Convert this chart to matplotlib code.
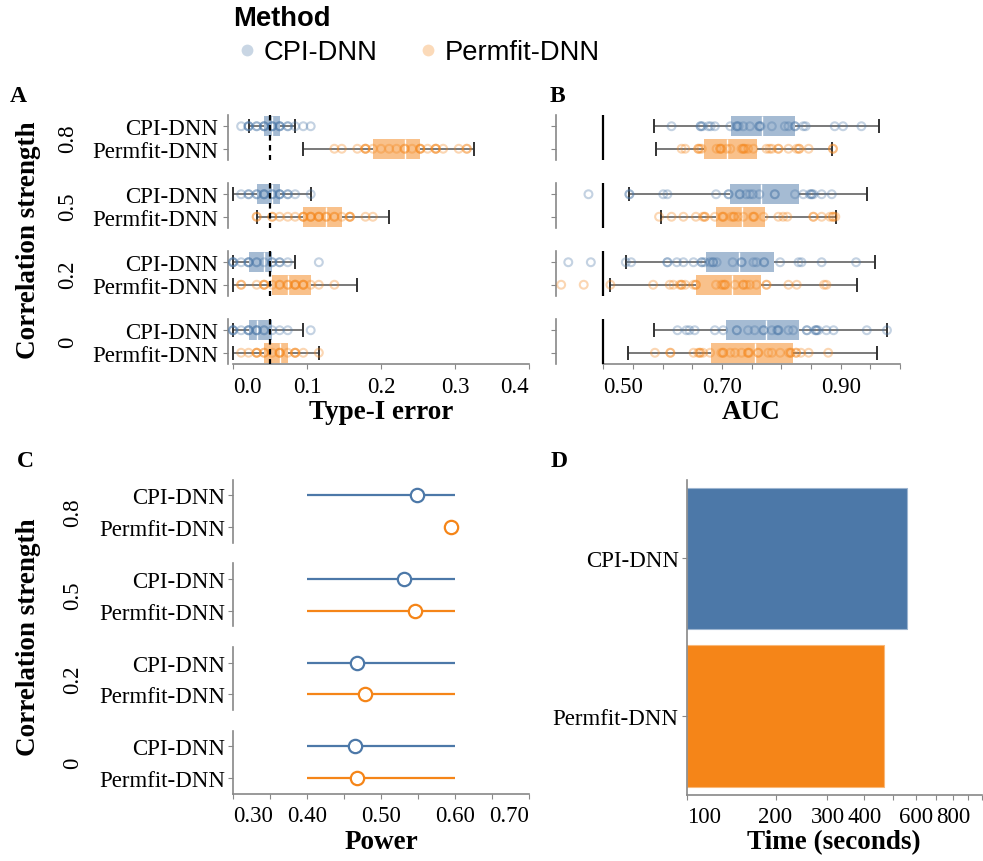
import numpy as np
import matplotlib
matplotlib.use('Agg')
import matplotlib.pyplot as plt
from matplotlib.lines import Line2D

plt.rcParams['font.family'] = 'Liberation Serif'

W, H = 983, 862
BLUE = '#4c78a8'
ORANGE = '#f58518'
GRAY = '#888888'
TICK_FS = 16.5
TITLE_FS = 19.5

rho_levels = ['0.8', '0.5', '0.2', '0']
methods = ['CPI-DNN', 'Permfit-DNN']
colors = {'CPI-DNN': BLUE, 'Permfit-DNN': ORANGE}

# Type-I error boxplot summaries (per correlation level, top to bottom)
t1_lo = {'CPI-DNN': [0.021, 0.0, 0.0, 0.0], 'Permfit-DNN': [0.095, 0.032, 0.0, 0.0]}
t1_q1 = {'CPI-DNN': [0.042, 0.032, 0.021, 0.021], 'Permfit-DNN': [0.189, 0.095, 0.053, 0.042]}
t1_med = {'CPI-DNN': [0.053, 0.053, 0.042, 0.032], 'Permfit-DNN': [0.232, 0.126, 0.074, 0.063]}
t1_q3 = {'CPI-DNN': [0.063, 0.063, 0.053, 0.053], 'Permfit-DNN': [0.253, 0.147, 0.105, 0.074]}
t1_hi = {'CPI-DNN': [0.084, 0.105, 0.084, 0.095], 'Permfit-DNN': [0.326, 0.211, 0.168, 0.116]}

t1_points = {
    'CPI-DNN': [
        [0.011, 0.021, 0.021, 0.021, 0.032, 0.032, 0.042, 0.042, 0.042, 0.053, 0.053, 0.053,
         0.063, 0.063, 0.063, 0.074, 0.074, 0.084, 0.095, 0.105],
        [0.011, 0.021, 0.021, 0.032, 0.032, 0.042, 0.042, 0.042, 0.053, 0.053, 0.063, 0.063,
         0.063, 0.074, 0.074, 0.084, 0.105],
        [0.0, 0.0, 0.0, 0.011, 0.021, 0.021, 0.021, 0.032, 0.032, 0.042, 0.053, 0.053,
         0.063, 0.063, 0.074, 0.116],
        [0.0, 0.0, 0.0, 0.011, 0.021, 0.021, 0.021, 0.032, 0.032, 0.032, 0.042, 0.042,
         0.053, 0.063, 0.074, 0.105],
    ],
    'Permfit-DNN': [
        [0.137, 0.147, 0.168, 0.179, 0.179, 0.179, 0.189, 0.200, 0.211, 0.221, 0.232, 0.232,
         0.242, 0.253, 0.253, 0.253, 0.263, 0.274, 0.274, 0.274, 0.284, 0.305, 0.316, 0.316],
        [0.032, 0.032, 0.053, 0.053, 0.063, 0.074, 0.084, 0.095, 0.095, 0.095, 0.105, 0.105,
         0.105, 0.116, 0.116, 0.116, 0.126, 0.126, 0.137, 0.137, 0.147, 0.158, 0.158, 0.158,
         0.179, 0.189],
        [0.011, 0.011, 0.032, 0.042, 0.042, 0.042, 0.053, 0.063, 0.063, 0.074, 0.074, 0.084,
         0.084, 0.084, 0.095, 0.095, 0.095, 0.105, 0.116, 0.137],
        [0.011, 0.021, 0.032, 0.032, 0.032, 0.042, 0.042, 0.053, 0.063, 0.063, 0.063, 0.074,
         0.084, 0.084, 0.084, 0.095, 0.116],
    ],
}

# AUC boxplot summaries
auc_lo = {'CPI-DNN': [0.586, 0.544, 0.538, 0.586], 'Permfit-DNN': [0.588, 0.597, 0.512, 0.541]}
auc_q1 = {'CPI-DNN': [0.715, 0.714, 0.673, 0.707], 'Permfit-DNN': [0.670, 0.690, 0.656, 0.682]}
auc_med = {'CPI-DNN': [0.767, 0.766, 0.728, 0.775], 'Permfit-DNN': [0.709, 0.733, 0.717, 0.756]}
auc_q3 = {'CPI-DNN': [0.823, 0.829, 0.788, 0.830], 'Permfit-DNN': [0.759, 0.773, 0.765, 0.819]}
auc_hi = {'CPI-DNN': [0.964, 0.944, 0.958, 0.978], 'Permfit-DNN': [0.886, 0.892, 0.927, 0.961]}

auc_points = {
    'CPI-DNN': [
        [0.615, 0.664, 0.664, 0.667, 0.677, 0.681, 0.688, 0.714, 0.725, 0.725, 0.728, 0.736,
         0.747, 0.763, 0.763, 0.765, 0.784, 0.806, 0.812, 0.823, 0.823, 0.837, 0.841, 0.890,
         0.904, 0.935],
        [0.475, 0.544, 0.544, 0.601, 0.608, 0.690, 0.711, 0.711, 0.730, 0.730, 0.741, 0.747,
         0.752, 0.763, 0.789, 0.789, 0.823, 0.837, 0.848, 0.851, 0.851, 0.854, 0.868, 0.885],
        [0.441, 0.479, 0.538, 0.547, 0.608, 0.608, 0.624, 0.635, 0.652, 0.666, 0.666, 0.671,
         0.680, 0.685, 0.685, 0.691, 0.718, 0.733, 0.733, 0.753, 0.758, 0.771, 0.771, 0.798,
         0.829, 0.834, 0.868, 0.926],
        [0.625, 0.640, 0.645, 0.654, 0.688, 0.702, 0.725, 0.725, 0.744, 0.755, 0.770, 0.770,
         0.784, 0.793, 0.795, 0.795, 0.812, 0.820, 0.843, 0.843, 0.857, 0.859, 0.859, 0.862,
         0.876, 0.888, 0.944, 0.978],
    ],
    'Permfit-DNN': [
        [0.632, 0.638, 0.660, 0.660, 0.663, 0.666, 0.691, 0.697, 0.697, 0.699, 0.708, 0.714,
         0.733, 0.736, 0.736, 0.739, 0.744, 0.753, 0.775, 0.780, 0.784, 0.795, 0.795, 0.812,
         0.826, 0.830, 0.830, 0.846, 0.887, 0.887],
        [0.594, 0.615, 0.635, 0.656, 0.668, 0.671, 0.671, 0.688, 0.701, 0.701, 0.703, 0.716,
         0.720, 0.720, 0.727, 0.736, 0.752, 0.754, 0.754, 0.770, 0.795, 0.803, 0.810, 0.854,
         0.854, 0.868, 0.882, 0.887, 0.887, 0.891],
        [0.429, 0.467, 0.512, 0.584, 0.612, 0.618, 0.629, 0.632, 0.632, 0.638, 0.652, 0.656,
         0.656, 0.690, 0.699, 0.702, 0.705, 0.705, 0.722, 0.736, 0.736, 0.741, 0.747, 0.758,
         0.775, 0.775, 0.812, 0.826, 0.872, 0.876],
        [0.587, 0.613, 0.613, 0.652, 0.660, 0.663, 0.663, 0.668, 0.680, 0.699, 0.702, 0.702,
         0.714, 0.722, 0.733, 0.744, 0.744, 0.746, 0.761, 0.761, 0.778, 0.784, 0.798, 0.813,
         0.816, 0.816, 0.825, 0.825, 0.833, 0.846, 0.879],
    ],
}

# Power with 95% interval
power_est = {'CPI-DNN': [0.549, 0.531, 0.467, 0.465], 'Permfit-DNN': [0.594, 0.546, 0.479, 0.467]}
power_lo = {'CPI-DNN': [0.40, 0.40, 0.40, 0.40], 'Permfit-DNN': [np.nan, 0.40, 0.40, 0.40]}
power_hi = {'CPI-DNN': [0.60, 0.60, 0.60, 0.60], 'Permfit-DNN': [np.nan, 0.60, 0.60, 0.60]}

# Computation time
time_sec = [557, 465]
time_ticks = [100, 200, 300, 400, 500, 600, 700, 800, 900, 1000]
time_labels = ['100', '200', '300', '400', '', '600', '', '800', '', '']


def px(v):
    return v * 72 / 100


def px_axes(fig, left, top, right, bottom):
    return fig.add_axes([left / W, 1 - bottom / H, (right - left) / W, (bottom - top) / H])


def style_axis(ax, last, ytick_pad, show_ylabels=True):
    for s in ['top', 'right']:
        ax.spines[s].set_visible(False)
    ax.spines['left'].set_color(GRAY)
    ax.spines['bottom'].set_color(GRAY)
    ax.spines['left'].set_linewidth(1.2)
    ax.spines['bottom'].set_linewidth(1.2)
    ax.set_yticks([0, 1])
    ax.set_yticklabels(methods if show_ylabels else ['', ''], fontsize=TICK_FS)
    ax.tick_params(axis='y', length=px(5), width=0.8, color=GRAY, pad=ytick_pad)
    ax.tick_params(axis='x', length=px(5), width=0.8, color=GRAY, pad=4.8, labelsize=TICK_FS)
    if not last:
        ax.spines['bottom'].set_visible(False)
        ax.set_xticks([])


def flush_labels(ax):
    labels = ax.get_xticklabels()
    shown = [t for t in labels if t.get_text()]
    shown[0].set_ha('left')
    if ax.get_xticks()[-1] == float(ax.get_xlim()[1]) and labels[-1].get_text():
        labels[-1].set_ha('right')


def box_panel(fig, axis_x, x0, x1, dom, tops, height, lo, q1, med, q3, hi, pts,
              ref, ref_ls, ticks, tick_labels, show_ylabels):
    # axis_x: pixel of the y-axis line, x0/x1: pixels of the x domain
    scale = (dom[1] - dom[0]) / (x1 - x0)
    xmin = dom[0] - (x0 - axis_x) * scale
    for i in range(len(rho_levels)):
        ax = px_axes(fig, axis_x, tops[i], x1, tops[i] + height)
        ax.set_xlim(xmin, dom[1])
        ax.set_ylim(1.5, -0.5)
        for j, m in enumerate(methods):
            c = colors[m]
            ax.barh(j, q3[m][i] - q1[m][i], left=q1[m][i], height=0.89, color=c,
                    alpha=0.5, lw=0, zorder=1)
            ax.vlines(med[m][i], j - 0.445, j + 0.445, color='white', lw=1, zorder=2)
            ax.hlines(j, lo[m][i], q1[m][i], color='#555555', lw=1.1, zorder=2)
            ax.hlines(j, q3[m][i], hi[m][i], color='#555555', lw=1.1, zorder=2)
            ax.vlines([lo[m][i], hi[m][i]], j - 0.32, j + 0.32, color='#333333', lw=1.4, zorder=2)
            vals = pts[m][i]
            ax.scatter(vals, [j] * len(vals), s=32, facecolors='none', edgecolors=c,
                       linewidths=1.5, alpha=0.33, zorder=3, clip_on=False)
        ax.vlines(ref, -0.5, 1.5, color='black', lw=1.6, linestyles=ref_ls, zorder=4)
        last = i == len(rho_levels) - 1
        style_axis(ax, last, px(5), show_ylabels)
        if not show_ylabels:
            ax.tick_params(axis='y', pad=0)
        if last:
            ax.spines['bottom'].set_bounds(dom[0], dom[1])
            ax.set_xticks(ticks)
            ax.set_xticklabels(tick_labels)
            flush_labels(ax)


fig = plt.figure(figsize=(W / 100, H / 100), dpi=100)

tops_ab = [116, 184, 252, 320]
facet_h_ab = 45

# A: Type-I error
box_panel(fig, 228, 233, 529, (0.0, 0.4), tops_ab, facet_h_ab,
          t1_lo, t1_q1, t1_med, t1_q3, t1_hi, t1_points, 0.05, (0, (2.5, 2)),
          [0.0, 0.1, 0.2, 0.3, 0.4], ['0.0', '0.1', '0.2', '0.3', '0.4'], True)

# B: AUC
auc_ticks = [0.50, 0.55, 0.60, 0.65, 0.70, 0.75, 0.80, 0.85, 0.90, 0.95, 1.00]
auc_tick_labels = ['0.50', '', '', '', '0.70', '', '', '', '0.90', '', '']
box_panel(fig, 556, 603.3, 900, (0.5, 1.0), tops_ab, facet_h_ab,
          auc_lo, auc_q1, auc_med, auc_q3, auc_hi, auc_points, 0.5, 'solid',
          auc_ticks, auc_tick_labels, False)

# C: Power
tops_c = [480.7, 564.3, 648.0, 731.7]
facet_h_c = 63
power_ticks = [0.30, 0.35, 0.40, 0.45, 0.50, 0.55, 0.60, 0.65, 0.70]
power_labels = ['0.30', '', '0.40', '', '0.50', '', '0.60', '', '0.70']
for i in range(len(rho_levels)):
    ax = px_axes(fig, 233, tops_c[i], 529, tops_c[i] + facet_h_c)
    ax.set_xlim(0.3, 0.7)
    ax.set_ylim(1.5, -0.5)
    for j, m in enumerate(methods):
        c = colors[m]
        ax.hlines(j, power_lo[m][i], power_hi[m][i], color=c, lw=1.6, zorder=2)
        ax.plot(power_est[m][i], j, 'o', ms=9.6, mfc='white', mec=c, mew=1.6,
                zorder=3, clip_on=False)
    last = i == len(rho_levels) - 1
    style_axis(ax, last, px(3))
    if last:
        ax.set_xticks(power_ticks)
        ax.set_xticklabels(power_labels)
        flush_labels(ax)

# D: computation time
ax = px_axes(fig, 686.7, 480.7, 981.7, 795.7)
ax.set_xscale('log')
ax.barh([0, 1], np.array(time_sec) - 100, left=100, height=0.9,
        color=[BLUE, ORANGE], edgecolor=['#9db5d0', '#f9b878'], lw=0.8)
ax.set_xlim(100, 1000)
ax.set_ylim(1.5, -0.5)
style_axis(ax, True, px(3))
ax.set_xticks(time_ticks)
ax.set_xticklabels(time_labels)
ax.xaxis.set_minor_locator(matplotlib.ticker.NullLocator())
ax.get_xticklabels()[0].set_ha('left')


def ftext(x, y, s, **kw):
    fig.text(x / W, 1 - y / H, s, **kw)


# panel letters
for letter, (x, y) in zip('ABCD', [(10, 97), (550, 97), (17, 462), (551, 462)]):
    ftext(x, y, letter, fontsize=17, fontweight='bold', va='center', ha='left')

# axis titles
ftext(381, 413, 'Type-I error', fontsize=TITLE_FS, fontweight='bold', ha='center', va='center')
ftext(751.5, 413, 'AUC', fontsize=TITLE_FS, fontweight='bold', ha='center', va='center')
ftext(381, 843, 'Power', fontsize=TITLE_FS, fontweight='bold', ha='center', va='center')
ftext(834, 843, 'Time (seconds)', fontsize=TITLE_FS, fontweight='bold', ha='center', va='center')

# row facet headers and shared y title
for tops, fh, lx in [(tops_ab, facet_h_ab, 68), (tops_c, facet_h_c, 73)]:
    for rho, t in zip(rho_levels, tops):
        ftext(lx, t + fh / 2, rho, fontsize=TICK_FS, rotation=90, ha='center', va='center')
    mid = (tops[0] + tops[-1] + fh) / 2
    ftext(29, mid, 'Correlation strength', fontsize=TITLE_FS, fontweight='bold',
          rotation=90, ha='center', va='center')

# legend
handles = [Line2D([], [], ls='', marker='o', ms=8.5, mfc=colors[m], mec='none', alpha=0.3)
           for m in methods]
leg = fig.legend(handles, methods, title='Method', ncol=2, loc='upper left',
                 bbox_to_anchor=(233 / W, 1 - 6 / H), frameon=False,
                 prop={'family': 'Liberation Sans', 'size': 19.7},
                 title_fontproperties={'family': 'Liberation Sans', 'weight': 'bold', 'size': 19.7},
                 handlelength=1.0, handletextpad=0.13, columnspacing=1.33,
                 labelspacing=0.3, borderpad=0, borderaxespad=0)
leg._legend_box.align = 'left'

fig.savefig('out.png', dpi=100)
